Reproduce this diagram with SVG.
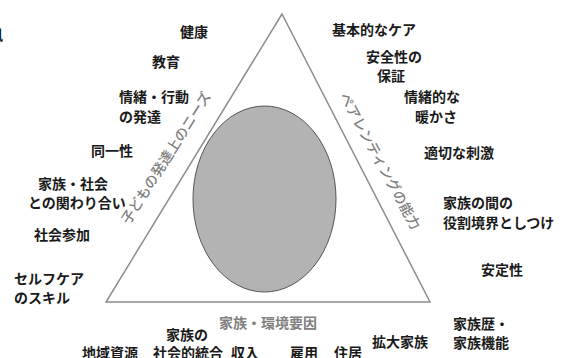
<svg xmlns="http://www.w3.org/2000/svg" width="564" height="358" viewBox="0 0 564 358">
<style>
text{font-family:"Noto Sans CJK JP","Noto Sans CJK SC",sans-serif;font-size:14px;font-weight:700;fill:#1a1a1a}
.g{fill:#808080;font-weight:700}
.r{font-weight:500}
.tri{fill:none;stroke:#8c8c8c;stroke-width:1.5}
.circ{fill:#b3b3b3;stroke:#555;stroke-width:1}
</style>
<rect width="564" height="358" fill="#fff"/>
<text x="-11" y="40">風</text>
<g id="frame">
<polygon class="tri" points="282,14 106,302 430,302"/>
</g>
<g id="center"><ellipse class="circ" cx="264.5" cy="199" rx="71.5" ry="93"/></g>
<g id="axis-child"><text class="g r" x="0" y="5" text-anchor="middle" transform="translate(166,158) rotate(-57.5)">子どもの発達上のニーズ</text></g>
<g id="axis-parent"><text class="g r" x="0" y="5" text-anchor="middle" transform="translate(380,161) rotate(61.5)">ペアレンティングの能力</text></g>
<g id="axis-family"><text class="g" x="219" y="328">家族・環境要因</text></g>
<g id="child-needs">
<text x="180" y="37">健康</text>
<text x="152" y="67">教育</text>
<text x="119" y="102">情緒・行動</text>
<text x="119" y="122">の発達</text>
<text x="91" y="156">同一性</text>
<text x="38" y="189">家族・社会</text>
<text x="28" y="208">との関わり合い</text>
<text x="34" y="240">社会参加</text>
<text x="14" y="284">セルフケア</text>
<text x="14" y="303">のスキル</text>
</g>
<g id="parenting">
<text x="332" y="35">基本的なケア</text>
<text x="366" y="62">安全性の</text>
<text x="377" y="81">保証</text>
<text x="404" y="102">情緒的な</text>
<text x="415" y="122">暖かさ</text>
<text x="424" y="158">適切な刺激</text>
<text x="443" y="208">家族の間の</text>
<text x="443" y="228">役割境界としつけ</text>
<text x="481" y="275">安定性</text>
</g>
<g id="family">
<text x="453" y="329">家族歴・</text>
<text x="453" y="348">家族機能</text>
<text x="372" y="347">拡大家族</text>
<text x="334" y="358">住居</text>
<text x="290" y="358">雇用</text>
<text x="231" y="358">収入</text>
<text x="166" y="340">家族の</text>
<text x="153" y="358">社会的統合</text>
<text x="82" y="358">地域資源</text>
</g>
</svg>
